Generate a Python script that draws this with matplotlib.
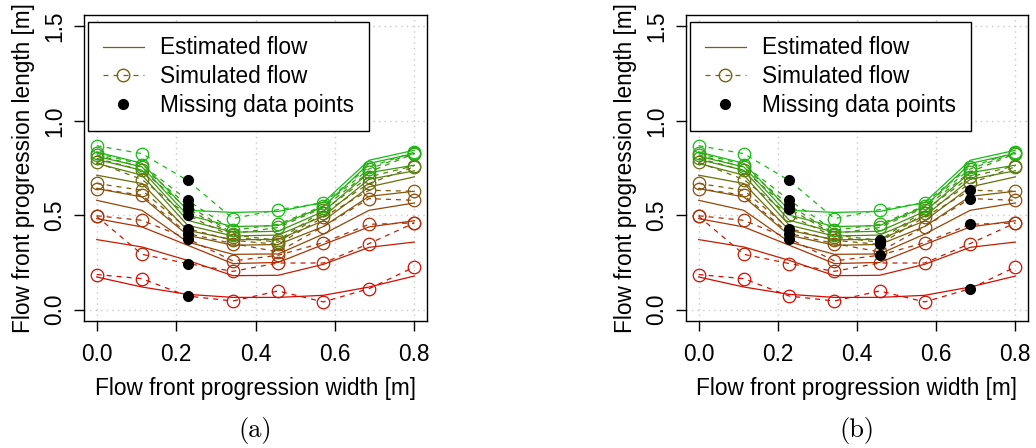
import matplotlib.pyplot as plt
import numpy as np
from matplotlib.lines import Line2D

plt.rcParams['font.family'] = ['Liberation Sans', 'DejaVu Sans']

# flow front positions across the width [m]
width_pos = [0.0, 0.114, 0.229, 0.343, 0.457, 0.571, 0.686, 0.8]

# estimated flow front length, one row per time step (bottom -> top)
estimated = [
    [0.173, 0.120, 0.081, 0.065, 0.065, 0.076, 0.120, 0.178],
    [0.371, 0.332, 0.261, 0.180, 0.182, 0.240, 0.330, 0.358],
    [0.482, 0.438, 0.341, 0.244, 0.250, 0.345, 0.438, 0.471],
    [0.579, 0.526, 0.358, 0.293, 0.295, 0.400, 0.526, 0.565],
    [0.641, 0.597, 0.394, 0.341, 0.345, 0.440, 0.600, 0.627],
    [0.712, 0.668, 0.420, 0.370, 0.372, 0.470, 0.650, 0.703],
    [0.774, 0.712, 0.447, 0.390, 0.395, 0.495, 0.690, 0.735],
    [0.795, 0.738, 0.473, 0.410, 0.415, 0.520, 0.725, 0.765],
    [0.812, 0.756, 0.500, 0.440, 0.445, 0.545, 0.774, 0.827],
    [0.835, 0.775, 0.526, 0.515, 0.520, 0.568, 0.791, 0.844],
]

# simulated flow front length
simulated = [
    [0.186, 0.164, 0.072, 0.046, 0.099, 0.041, 0.111, 0.226],
    [0.494, 0.293, 0.244, 0.203, 0.247, 0.247, 0.350, 0.459],
    [0.497, 0.473, 0.376, 0.258, 0.288, 0.355, 0.452, 0.459],
    [0.641, 0.606, 0.403, 0.350, 0.306, 0.440, 0.588, 0.579],
    [0.668, 0.632, 0.429, 0.367, 0.346, 0.490, 0.632, 0.627],
    [0.780, 0.689, 0.500, 0.385, 0.357, 0.510, 0.668, 0.757],
    [0.801, 0.738, 0.535, 0.395, 0.367, 0.525, 0.703, 0.762],
    [0.819, 0.755, 0.553, 0.403, 0.435, 0.540, 0.729, 0.826],
    [0.828, 0.768, 0.579, 0.420, 0.452, 0.550, 0.745, 0.830],
    [0.868, 0.826, 0.684, 0.482, 0.530, 0.565, 0.756, 0.834],
]

# missing points: x index -> list of series indices
missing_a = {2: list(range(10))}
missing_b = {2: [2, 3, 4, 6, 7, 8, 9], 4: [2, 4, 5, 6], 6: [0, 2, 3, 4]}

x_ticks = [0.0, 0.2, 0.4, 0.6, 0.8]
y_ticks = [0.0, 0.5, 1.0, 1.5]

n = len(estimated)
c_start = np.array([215, 10, 0]) / 255
c_end = np.array([20, 190, 20]) / 255
colors = [tuple(c_start + (c_end - c_start) * i / (n - 1)) for i in range(n)]
legend_col = tuple((c_start + c_end) / 2)

FS = 16.3
dash = (0, (4, 4))


def panel(ax, missing, caption):
    x = np.array(width_pos)
    ax.grid(True, linestyle=(0, (1, 3)), color='#c8c8c8', linewidth=1)
    ax.set_axisbelow(True)
    for i in range(n):
        ax.plot(x, estimated[i], color=colors[i], lw=0.9, zorder=2)
    for i in range(n):
        sim = np.array(simulated[i])
        ax.plot(x, sim, color=colors[i], lw=0.9, linestyle=dash, zorder=3)
        keep = [j for j in range(len(x)) if i not in missing.get(j, [])]
        ax.plot(x[keep], sim[keep], linestyle='none', marker='o', ms=9,
                mfc='none', mec=colors[i], mew=0.9, zorder=3)
    for j, series in missing.items():
        for i in series:
            ax.plot(x[j], simulated[i][j], linestyle='none', marker='o', ms=7,
                    color='black', zorder=4)

    ax.set_xlim(-0.032, 0.832)
    ax.set_ylim(-0.06, 1.56)
    ax.set_xticks(x_ticks)
    ax.set_xticklabels([f'{v:.1f}' for v in x_ticks])
    ax.set_yticks(y_ticks)
    ax.set_yticklabels([f'{v:.1f}' for v in y_ticks], rotation=90, va='center')
    ax.tick_params(labelsize=FS, length=7, width=1)
    ax.tick_params(axis='x', pad=9)
    ax.tick_params(axis='y', pad=6)
    for s in ax.spines.values():
        s.set_linewidth(1)
    ax.set_xlabel('Flow front progression width [m]', fontsize=FS, labelpad=8)
    ax.set_ylabel('Flow front progression length [m]', fontsize=FS, labelpad=6)

    handles = [
        Line2D([], [], color=legend_col, lw=0.9),
        Line2D([], [], color=legend_col, lw=0.9, linestyle=dash, marker='o',
               ms=9, mfc='none', mec=legend_col),
        Line2D([], [], linestyle='none', marker='o', ms=7, color='black'),
    ]
    leg = ax.legend(handles, ['Estimated flow', 'Simulated flow', 'Missing data points'],
                    loc='upper left', bbox_to_anchor=(0.012, 0.978), borderaxespad=0,
                    fontsize=FS, frameon=True, fancybox=False, edgecolor='black',
                    framealpha=1, handlelength=1.8, handletextpad=0.72,
                    borderpad=0.65, labelspacing=0.25)
    leg.get_frame().set_linewidth(1)
    bb = ax.get_position()
    fig.text(bb.x0 + bb.width / 2, 0.04, caption, ha='center', va='center',
             fontsize=19, family='cmr10')


fig = plt.figure(figsize=(10.36, 4.48), dpi=100)
ax_a = fig.add_axes([84 / 1036, 1 - 321 / 448, 343 / 1036, 306 / 448])
ax_b = fig.add_axes([686 / 1036, 1 - 321 / 448, 342 / 1036, 306 / 448])
panel(ax_a, missing_a, '(a)')
panel(ax_b, missing_b, '(b)')

fig.savefig('out.png', dpi=100)
